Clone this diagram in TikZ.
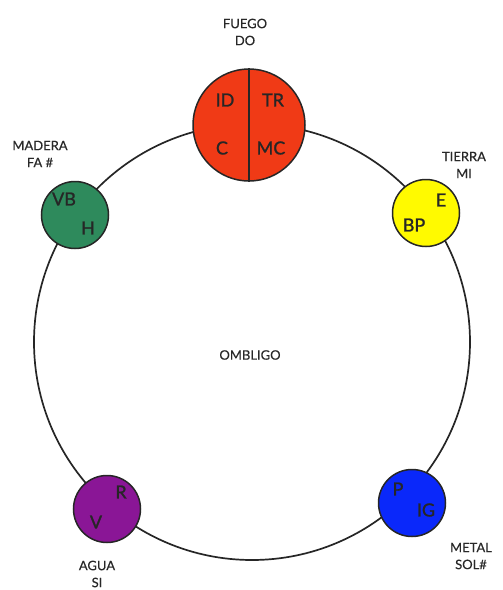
\documentclass[tikz,border=0pt]{standalone}
\usepackage{fontspec}
\setmainfont{Lato}
\newfontfamily\medfont[FakeBold=1.2]{Lato}
\newfontfamily\labfont[FakeBold=0.5]{Lato}
\usetikzlibrary{positioning, calc}
\definecolor{fuegored}{RGB}{240,58,22}
\definecolor{maderagreen}{RGB}{46,138,92}
\definecolor{tierrayellow}{RGB}{255,250,0}
\definecolor{aguapurple}{RGB}{138,22,150}
\definecolor{metalblue}{RGB}{10,40,250}
\definecolor{labgray}{RGB}{40,40,40}

\begin{document}
\begin{tikzpicture}[
    x=1pt, y=-1pt,
    every node/.style={font=\fontsize{13}{15}\selectfont},
    elem/.style={
        circle,
        draw=black!85,
        line width=1.5pt,
        minimum size=67pt,
        inner sep=0pt
    },
    big/.style={
        elem,
        minimum size=112pt
    },
    ring/.style={
        line width=1.7pt,
        draw=black!85
    },
    lab/.style={
        text=labgray,
        align=center,
        font=\labfont\fontsize{13}{17}\selectfont
    },
    letra/.style={
        text=black!85,
        inner sep=0pt,
        font=\medfont\fontsize{18}{18}\selectfont
    }
]
\useasboundingbox (0,0) rectangle (503,590);
\node[circle, minimum size=436pt, inner sep=0pt] (ombligo) at (252,342) {};
\draw[ring] (ombligo.center) circle (218pt);
\node[lab] (centro) at (250,355) {OMBLIGO};
% elementos
\node[big, fill=fuegored] (fuego) at (249,125) {};
\node[elem, fill=maderagreen] (madera) at (75,215) {};
\node[elem, fill=tierrayellow] (tierra) at (426,213) {};
\node[elem, fill=aguapurple] (agua) at (107,509) {};
\node[elem, fill=metalblue] (metal) at (412,503) {};
\draw[black!85, line width=2pt] (fuego.north) -- (fuego.south);
% letras
\node[letra] (id) at (225,100) {ID};
\node[letra] (tr) at (273,100) {TR};
\node[letra] (c) at (222,148) {C};
\node[letra] (mc) at (271,148) {MC};
\node[letra] (vb) at (64,199) {VB};
\node[letra] (h) at (88,228) {H};
\node[letra] (e) at (441,200) {E};
\node[letra] (bp) at (414,225) {BP};
\node[letra] (r) at (121,492) {R};
\node[letra] (v) at (96,522) {V};
\node[letra] (p) at (398,489) {P};
\node[letra] (ig) at (426,510) {IG};
% nombres
\node[lab] (fuegolab) at (245,32) {FUEGO\\DO};
\node[lab] (maderalab) at (40,154) {MADERA\\FA \#};
\node[lab] (tierralab) at (464,165) {TIERRA\\MI};
\node[lab] (agualab) at (97,574) {AGUA\\SI};
\node[lab] (metallab) at (471,556) {METAL\\SOL\#};
\end{tikzpicture}
\end{document}
